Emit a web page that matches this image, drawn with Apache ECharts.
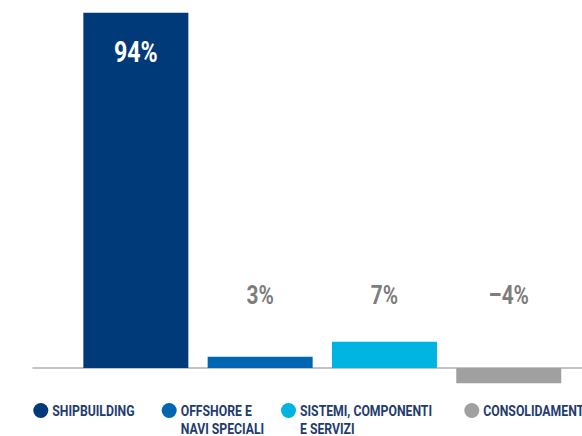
<!DOCTYPE html>
<html>
<head>
<meta charset="utf-8">
<script src="https://cdn.jsdelivr.net/npm/echarts@6/dist/echarts.min.js"></script>
<style>
  html, body { margin: 0; padding: 0; background: #ffffff; overflow: hidden; }
  #frame { width: 582px; height: 436px; overflow: hidden; position: relative; }
  /* condensed lettering: the chart is laid out wide, then compressed horizontally */
  #chart { height: 436px; transform-origin: 0 0; }
</style>
</head>
<body>
<div id="frame"><div id="chart"></div></div>
<script>
// Segment shares (percent)
const categories = ['SHIPBUILDING', 'OFFSHORE E\nNAVI SPECIALI', 'SISTEMI, COMPONENTI\nE SERVIZI', 'CONSOLIDAMENTO'];
const values = [94, 3, 7, -4];
const colors = ['#003a78', '#0066b1', '#00b4e1', '#a0a0a0'];

const S = 0.8;                  // horizontal compression of the whole drawing
const sx = v => v / S;          // final-pixel x distance -> layout distance
const FONT = 'Roboto, "Liberation Sans", sans-serif';
const LABEL_LEVEL = 19.4;       // axis height at which the small segment labels sit
const Y_MIN = -5, Y_MAX = 95;

const fmtPct = v => (v < 0 ? '\u2013' + Math.abs(v) : String(v)) + '%';

const el = document.getElementById('chart');
el.style.width = sx(582) + 'px';
el.style.transform = 'scaleX(' + S + ')';
const chart = echarts.init(el, null, { renderer: 'svg' });

// one bar series per segment, overlapping so each sits centred in its own category
const barSeries = categories.map((name, i) => ({
  type: 'bar',
  name: name,
  xAxisIndex: 0,
  yAxisIndex: 0,
  barWidth: sx(105),
  barGap: '-100%',
  itemStyle: { color: colors[i] },
  data: values.map((v, j) => (j === i ? v : '-')),
  label: i === 0 ? {
    show: true,
    position: 'insideTop',
    distance: 24.5,
    formatter: p => fmtPct(p.value),
    color: '#ffffff',
    fontFamily: FONT,
    fontWeight: 'bold',
    fontSize: 29,
    lineHeight: 29
  } : { show: false },
  silent: true
}));

// value labels of the small segments, all on one line above the baseline
const labelSeries = {
  type: 'scatter',
  name: 'labels',
  xAxisIndex: 0,
  yAxisIndex: 0,
  symbolSize: 0,
  silent: true,
  data: [1, 2, 3].map(i => [i, LABEL_LEVEL, values[i]]),
  label: {
    show: true,
    position: 'inside',
    formatter: p => fmtPct(p.data[2]),
    color: '#595959',
    fontFamily: FONT,
    fontWeight: 'bold',
    fontSize: 26
  }
};

// ellipse in layout space so it reads as a circle once compressed
const DOT = 'path://M50 0A50 50 0 1 1 50 100A50 50 0 1 1 50 0Z';
const legendLefts = [33.3, 161.7, 281, 464.3];
const legends = categories.map((name, i) => {
  const twoLines = name.indexOf('\n') >= 0;
  return {
    data: [name],
    left: sx(legendLefts[i]),
    top: twoLines ? 383.5 : 401.5,
    padding: 0,
    icon: DOT,
    symbolKeepAspect: false,
    itemWidth: sx(15),
    itemHeight: 15,
    selectedMode: false,
    // a leading blank line keeps the dot level with the first line
    formatter: n => (n.indexOf('\n') >= 0 ? '\n' + n : n),
    textStyle: {
      color: '#1f3c6e',
      fontFamily: FONT,
      fontWeight: 'bold',
      fontSize: 15.3,
      lineHeight: 18
    }
  };
});

chart.setOption({
  animation: false,
  backgroundColor: '#ffffff',
  legend: legends,
  grid: [
    { left: sx(73.7), right: sx(11.5), top: 9, bottom: 49 },
    { left: sx(33), right: 0, top: 9, bottom: 49 }
  ],
  xAxis: [
    {
      type: 'category', gridIndex: 0, data: categories,
      axisLine: { show: false }, axisTick: { show: false }, axisLabel: { show: false }
    },
    {
      type: 'category', gridIndex: 1, data: [''],
      axisLine: { show: true, onZero: true, lineStyle: { color: '#c3c3c3', width: 2 } },
      axisTick: { show: false }, axisLabel: { show: false }
    }
  ],
  yAxis: [
    { type: 'value', gridIndex: 0, min: Y_MIN, max: Y_MAX, show: false, splitLine: { show: false } },
    { type: 'value', gridIndex: 1, min: Y_MIN, max: Y_MAX, show: false, splitLine: { show: false } }
  ],
  series: [...barSeries, labelSeries]
});
</script>
</body>
</html>
